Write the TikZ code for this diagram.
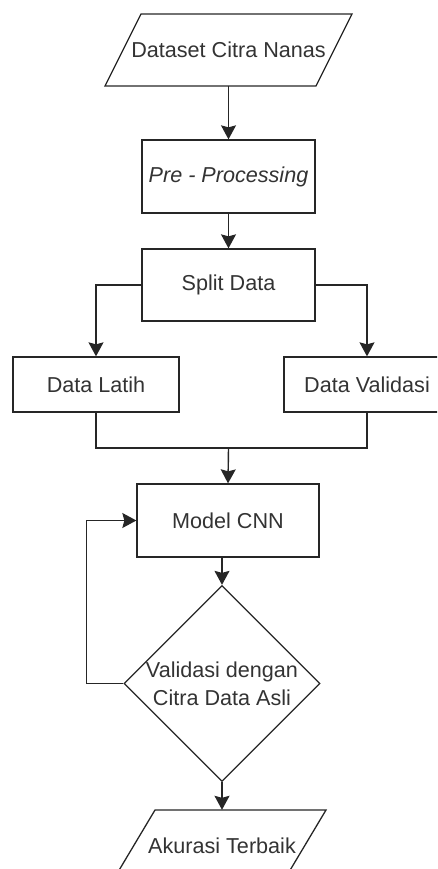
\documentclass[tikz,border=0pt]{standalone}
\usepackage{fontspec}
\setmainfont{Liberation Sans}
\usetikzlibrary{shapes.geometric,arrows.meta}
\definecolor{ln}{HTML}{262626}
\definecolor{tx}{HTML}{333333}
\begin{document}
\begin{tikzpicture}[x=1pt,y=-1pt,
  lbl/.style={font=\fontsize{21.6}{28}\selectfont, text=tx, align=center},
  box/.style={lbl, draw=ln, line width=1.3pt, rectangle, inner sep=0pt},
  ghost/.style={lbl, rectangle, inner sep=0pt},
  dec/.style={lbl, draw=ln, line width=1.3pt, diamond, inner sep=0pt},
  para/.style={draw=ln, line width=1.3pt, line join=miter},
  conn/.style={draw=ln, line width=1.4pt},
  arr/.style={conn, -{Stealth[length=14pt,width=15pt,inset=2pt]}}]
\useasboundingbox (0,0) rectangle (437,869);
\clip (0,0) rectangle (437,869);
% input parallelogram
\draw[para] (141,14) -- (352,14) -- (316,86) -- (105,86) -- cycle;
\node[ghost, minimum width=173pt, minimum height=72pt] (ds) at (228.5,50) {Dataset Citra Nanas};
\node[box, minimum width=173pt, minimum height=73pt] (pre) at (228.5,176.5) {\itshape Pre - Processing};
\node[box, minimum width=173pt, minimum height=72pt] (split) at (228.5,285) {Split Data};
\node[box, minimum width=166pt, minimum height=55pt] (latih) at (96,384.5) {Data Latih};
\node[box, minimum width=166pt, minimum height=55pt] (valid) at (367,384.5) {Data Validasi};
\node[box, minimum width=182pt, minimum height=73pt] (cnn) at (228,520.5) {Model CNN};
\node[dec, minimum width=194pt, minimum height=180pt] (val) at (222,683.5) {Validasi dengan\\Citra Data Asli};
% output parallelogram
\draw[para] (155,810) -- (326,810) -- (283,882) -- (112,882) -- cycle;
\node[ghost, minimum width=171pt, minimum height=72pt] (ak) at (222,846) {Akurasi Terbaik};
% connectors
\coordinate (j) at (228.5,448);
\draw[arr] (ds.south) -- (pre.north);
\draw[arr] (pre.south) -- (split.north);
\draw[arr] (split.west) -| (latih.north);
\draw[arr] (split.east) -| (valid.north);
\draw[conn] (latih.south) |- (j) -| (valid.south);
\draw[arr] (j) -- (cnn.north);
\draw[arr] (val.north |- cnn.south) -- (val.north);
\draw[arr] (val.west) -- ++(-37,0) |- (cnn.west);
\draw[arr] (val.south) -- (ak.north);
\end{tikzpicture}
\end{document}
